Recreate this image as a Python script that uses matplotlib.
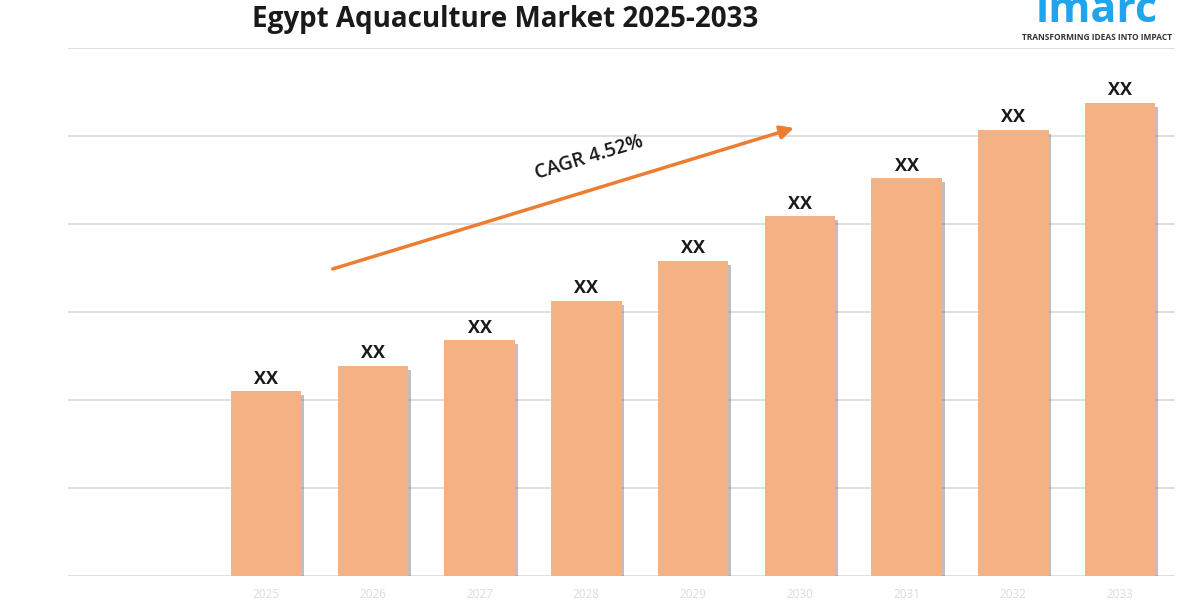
import matplotlib
matplotlib.use("Agg")
import matplotlib.pyplot as plt
import matplotlib.patheffects as pe

# Данные графика
years = ["2025", "2026", "2027", "2028", "2029", "2030", "2031", "2032", "2033"]
values = [2.10, 2.39, 2.68, 3.13, 3.58, 4.09, 4.52, 5.07, 5.38]
bar_labels = ["XX"] * len(years)
cagr_text = "CAGR 4.52%"
title = "Egypt Aquaculture Market 2025-2033"

plt.rcParams["font.family"] = ["Open Sans", "DejaVu Sans"]

fig = plt.figure(figsize=(12, 6), dpi=100)
ax = fig.add_axes([68 / 1200, 24 / 600, 1107 / 1200, 528 / 600])

x = list(range(1, len(years) + 1))
bars = ax.bar(x, values, width=0.66, color="#F4B183", zorder=3)
for b in bars:
    b.set_path_effects([pe.withSimplePatchShadow(offset=(2, -3), shadow_rgbFace="#808080", alpha=0.5), pe.Normal()])

for xi, v, lab in zip(x, values, bar_labels):
    ax.text(xi, v + 0.04, lab, ha="center", va="bottom", fontsize=13, fontweight="bold", color="#1a1a1a", zorder=4)

ax.set_xlim(-0.855, 9.515)
ax.set_ylim(0, 6)
ax.set_yticks([0, 1, 2, 3, 4, 5, 6])
ax.yaxis.grid(True, color="#d9d9d9", linewidth=1.2, zorder=0)
ax.tick_params(axis="y", left=False, labelleft=False)
ax.tick_params(axis="x", bottom=False, pad=5, labelsize=8.5, labelcolor="#dcdcdc")
ax.set_xticks(x)
ax.set_xticklabels(years)
for s in ax.spines.values():
    s.set_visible(False)

# Стрелка CAGR
ax.annotate("", xy=(5.97, 5.10), xytext=(1.6, 3.48),
            arrowprops=dict(arrowstyle="-|>,head_length=0.8,head_width=0.4", color="#ED7D31", lw=2.5),
            zorder=5)
ax.text(4.03, 4.75, cagr_text, rotation=17, ha="center", va="center", fontsize=14,
        fontweight="semibold", color="#1a1a1a", rotation_mode="anchor")

fig.text(505 / 1200, 1 - 19 / 600, title, ha="center", va="center", fontsize=20, fontweight="bold", color="#1a1a1a")

# Логотип
fig.text(1097 / 1200, 1 - 22 / 600, "imarc", ha="center", va="baseline", fontsize=31, fontweight="bold", color="#1EA5EC")
fig.text(1097 / 1200, 1 - 38 / 600, "TRANSFORMING IDEAS INTO IMPACT", ha="center", va="center", fontsize=6,
         fontweight="bold", color="#333333")

fig.savefig("out.png", dpi=100)
